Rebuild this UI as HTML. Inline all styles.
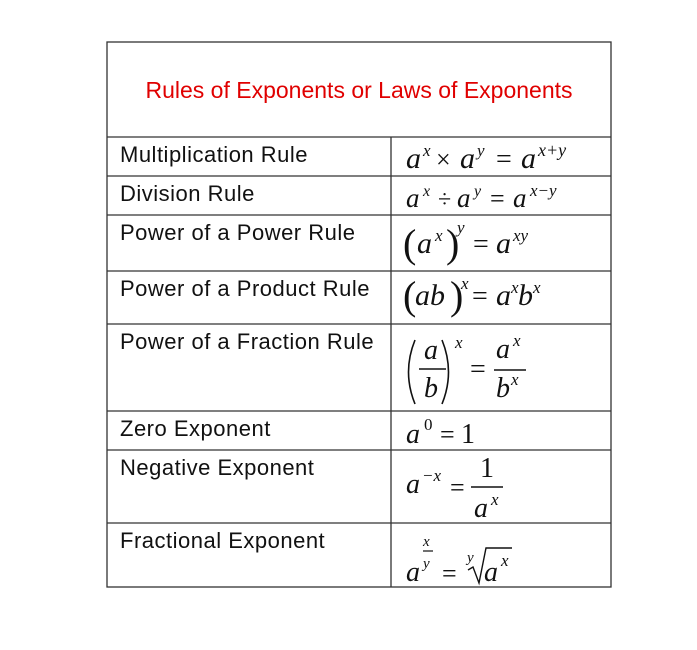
<!DOCTYPE html>
<html><head><meta charset="utf-8"><style>
html,body{margin:0;padding:0;background:#fff;width:697px;height:650px;overflow:hidden}
</style></head><body>
<svg width="697" height="650" viewBox="0 0 697 650" xmlns="http://www.w3.org/2000/svg">
<g stroke="#333" stroke-width="1.3" fill="none">
<rect x="107" y="42" width="504" height="545"/>
<line x1="107" y1="137" x2="611" y2="137"/>
<line x1="107" y1="176" x2="611" y2="176"/>
<line x1="107" y1="215" x2="611" y2="215"/>
<line x1="107" y1="271" x2="611" y2="271"/>
<line x1="107" y1="324" x2="611" y2="324"/>
<line x1="107" y1="411" x2="611" y2="411"/>
<line x1="107" y1="450" x2="611" y2="450"/>
<line x1="107" y1="523" x2="611" y2="523"/>
<line x1="391" y1="137" x2="391" y2="587"/>
</g>
<text x="359" y="98" text-anchor="middle" fill="#e00000" font-family="Liberation Sans, sans-serif" font-size="23">Rules of Exponents or Laws of Exponents</text>
<g font-family="Liberation Sans, sans-serif" font-size="22" letter-spacing="0.5" fill="#111">
<text x="120" y="162">Multiplication Rule</text>
<text x="120" y="201">Division Rule</text>
<text x="120" y="240">Power of a Power Rule</text>
<text x="120" y="296">Power of a Product Rule</text>
<text x="120" y="349">Power of a Fraction Rule</text>
<text x="120" y="436">Zero Exponent</text>
<text x="120" y="475">Negative Exponent</text>
<text x="120" y="548">Fractional Exponent</text>
</g>
<g font-family="Liberation Serif, serif" fill="#111" font-size="30">
<text x="406" y="168" font-style="italic">a</text>
<text x="423" y="156" font-size="17" font-style="italic">x</text>
<text x="436" y="168" font-size="26">×</text>
<text x="460" y="168" font-style="italic">a</text>
<text x="477" y="156" font-size="17" font-style="italic">y</text>
<text x="496" y="168" font-size="28">=</text>
<text x="521" y="168" font-style="italic">a</text>
<text x="538" y="156" font-size="18" font-style="italic">x+y</text>
<text x="406" y="207" font-size="27" font-style="italic">a</text>
<text x="423" y="196" font-size="16" font-style="italic">x</text>
<text x="438" y="207" font-size="24">÷</text>
<text x="457" y="207" font-size="27" font-style="italic">a</text>
<text x="474" y="196" font-size="16" font-style="italic">y</text>
<text x="490" y="207" font-size="26">=</text>
<text x="513" y="207" font-size="27" font-style="italic">a</text>
<text x="530" y="196" font-size="17" font-style="italic">x−y</text>
<text x="403" y="257" font-size="40">(</text>
<text x="417" y="253" font-style="italic">a</text>
<text x="435" y="241" font-size="17" font-style="italic">x</text>
<text x="446" y="257" font-size="40">)</text>
<text x="457" y="233" font-size="17" font-style="italic">y</text>
<text x="473" y="253" font-size="28">=</text>
<text x="496" y="253" font-style="italic">a</text>
<text x="513" y="241" font-size="17" font-style="italic">xy</text>
<text x="403" y="309" font-size="40">(</text>
<text x="415" y="305" font-style="italic">ab</text>
<text x="450" y="309" font-size="40">)</text>
<text x="461" y="289" font-size="17" font-style="italic">x</text>
<text x="472" y="305" font-size="28">=</text>
<text x="496" y="305" font-style="italic">a</text>
<text x="511" y="293" font-size="17" font-style="italic">x</text>
<text x="518" y="305" font-style="italic">b</text>
<text x="533" y="293" font-size="17" font-style="italic">x</text>
<path d="M415 340 Q402 372 415 404" stroke="#111" stroke-width="1.6" fill="none"/>
<path d="M442 340 Q455 372 442 404" stroke="#111" stroke-width="1.6" fill="none"/>
<text x="424" y="359" font-size="28" font-style="italic">a</text>
<line x1="419" y1="369" x2="446" y2="369" stroke="#111" stroke-width="1.5"/>
<text x="424" y="397" font-size="28" font-style="italic">b</text>
<text x="455" y="348" font-size="17" font-style="italic">x</text>
<text x="470" y="378" font-size="28">=</text>
<text x="496" y="358" font-size="28" font-style="italic">a</text>
<text x="513" y="346" font-size="17" font-style="italic">x</text>
<line x1="494" y1="370" x2="526" y2="370" stroke="#111" stroke-width="1.5"/>
<text x="496" y="397" font-size="28" font-style="italic">b</text>
<text x="511" y="385" font-size="17" font-style="italic">x</text>
<text x="406" y="443" font-size="28" font-style="italic">a</text>
<text x="424" y="430" font-size="17">0</text>
<text x="440" y="443" font-size="26">=</text>
<text x="461" y="443" font-size="28">1</text>
<text x="406" y="493" font-size="28" font-style="italic">a</text>
<text x="422" y="481" font-size="17" font-style="italic">−x</text>
<text x="450" y="496" font-size="26">=</text>
<text x="480" y="477" font-size="28">1</text>
<line x1="471" y1="487" x2="503" y2="487" stroke="#111" stroke-width="1.5"/>
<text x="474" y="517" font-size="28" font-style="italic">a</text>
<text x="491" y="505" font-size="17" font-style="italic">x</text>
<text x="406" y="581" font-size="28" font-style="italic">a</text>
<text x="423" y="546" font-size="15" font-style="italic">x</text>
<line x1="423" y1="551" x2="433" y2="551" stroke="#111" stroke-width="1.2"/>
<text x="423" y="568" font-size="15" font-style="italic">y</text>
<text x="442" y="582" font-size="26">=</text>
<text x="467" y="562" font-size="15" font-style="italic">y</text>
<path d="M468 570 L473 567 L479 583 L486 548 L512 548" stroke="#111" stroke-width="1.4" fill="none"/>
<text x="484" y="581" font-size="28" font-style="italic">a</text>
<text x="501" y="566" font-size="17" font-style="italic">x</text>
</g>
</svg>
</body></html>
